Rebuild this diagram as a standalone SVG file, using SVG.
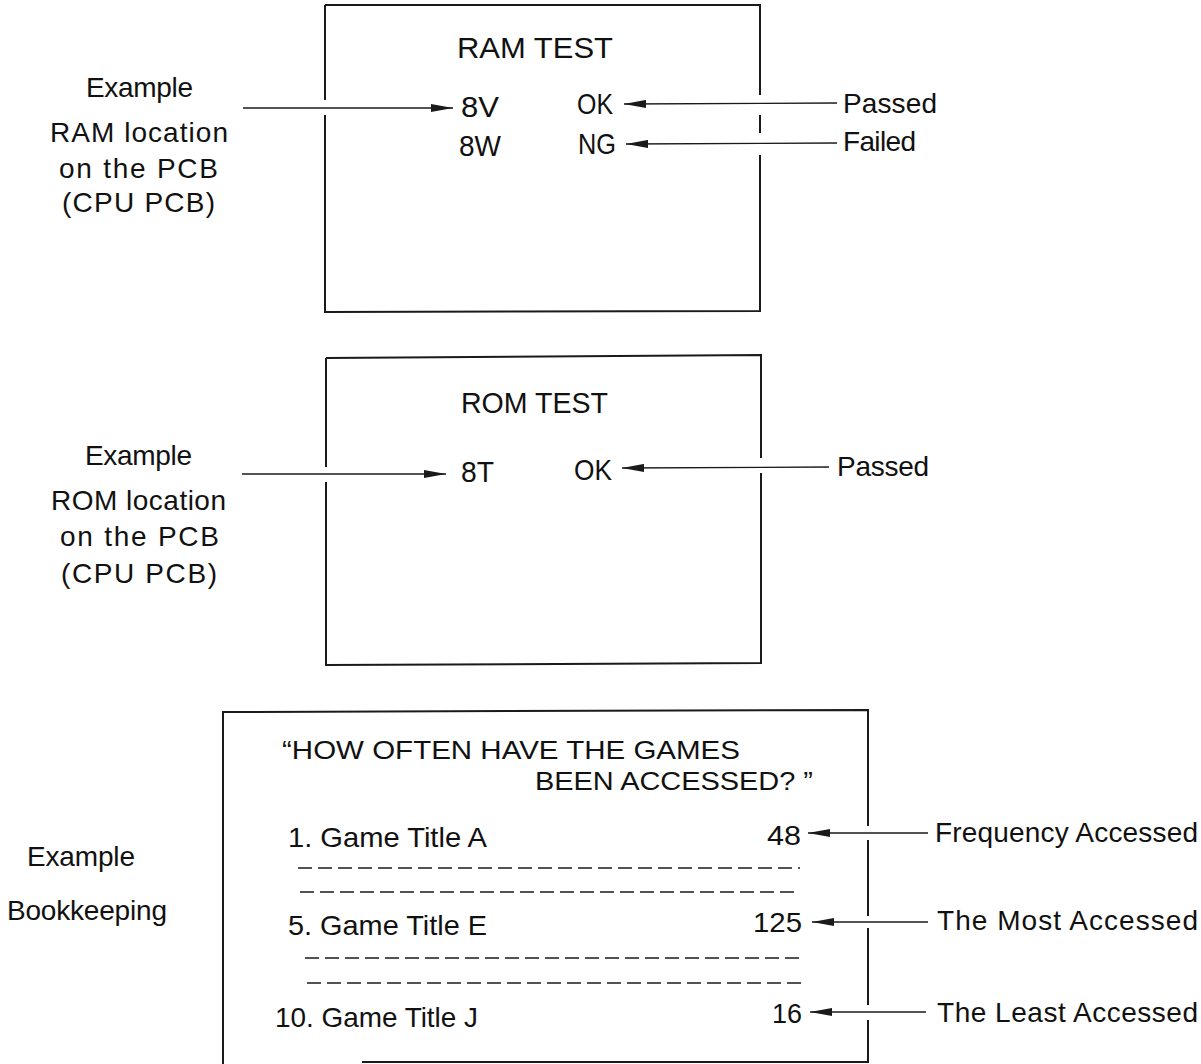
<svg xmlns="http://www.w3.org/2000/svg" width="1201" height="1064" viewBox="0 0 1201 1064">
<style>
text{font-family:"Liberation Sans","Arial",sans-serif;fill:#111;}
.lbl{font-size:28px;}
.in{font-size:29px;}
.ttl{font-size:26px;}
.row{font-size:28px;}
.frame{fill:none;stroke:#1a1a1a;stroke-width:2;}
.arr{fill:none;stroke:#1a1a1a;stroke-width:1.3;marker-end:url(#ah);}
.dash{fill:none;stroke:#1a1a1a;stroke-width:1.3;stroke-dasharray:14 6;}
</style>
<defs>
<marker id="ah" viewBox="0 0 22 8" refX="22" refY="4" markerWidth="22" markerHeight="8" markerUnits="userSpaceOnUse" orient="auto">
<path d="M0,0 L22,4 L0,8 Z" fill="#1a1a1a"/>
</marker>
</defs>
<rect width="1201" height="1064" fill="#fff"/>

<g id="ram-test">
<path class="frame" d="M325,5 H760 V95 M760,115 V133 M760,155 V311 L325,312 V115 M325,100 V5"/>
<text class="in" x="457" y="58" textLength="156" lengthAdjust="spacingAndGlyphs">RAM TEST</text>
<text class="in" x="461" y="117" textLength="38" lengthAdjust="spacingAndGlyphs">8V</text>
<text class="in" x="577" y="114" textLength="36" lengthAdjust="spacingAndGlyphs">OK</text>
<text class="in" x="459" y="156" textLength="42" lengthAdjust="spacingAndGlyphs">8W</text>
<text class="in" x="578" y="154" textLength="38" lengthAdjust="spacingAndGlyphs">NG</text>
</g>
<g id="ram-labels">
<text class="lbl" x="86" y="97" textLength="107">Example</text>
<text class="lbl" x="50" y="142" textLength="178">RAM location</text>
<text class="lbl" x="59" y="178" textLength="159">on the PCB</text>
<text class="lbl" x="62" y="212" textLength="153">(CPU PCB)</text>
<text class="lbl" x="843" y="113" textLength="94">Passed</text>
<text class="lbl" x="843" y="151" textLength="73">Failed</text>
</g>

<g id="rom-test">
<path class="frame" d="M326,358 L761,355 V458 M761,473 V663 L326,665 V482 M326,467 V358"/>
<text class="in" x="461" y="413" textLength="147" lengthAdjust="spacingAndGlyphs">ROM TEST</text>
<text class="in" x="461" y="482" textLength="33" lengthAdjust="spacingAndGlyphs">8T</text>
<text class="in" x="574" y="480" textLength="38" lengthAdjust="spacingAndGlyphs">OK</text>
</g>
<g id="rom-labels">
<text class="lbl" x="85" y="465" textLength="107">Example</text>
<text class="lbl" x="51" y="510" textLength="175">ROM location</text>
<text class="lbl" x="60" y="546" textLength="159">on the PCB</text>
<text class="lbl" x="61" y="583" textLength="156">(CPU PCB)</text>
<text class="lbl" x="837" y="476" textLength="92">Passed</text>
</g>

<g id="bookkeeping">
<path class="frame" d="M223,1064 V712 L868,710 V826 M868,840 V916 M868,928 V1005 M868,1020 V1062 H362"/>
<text class="ttl" x="282" y="759" textLength="458" lengthAdjust="spacingAndGlyphs">“HOW OFTEN HAVE THE GAMES</text>
<text class="ttl" x="535" y="790" textLength="278" lengthAdjust="spacingAndGlyphs">BEEN ACCESSED? ”</text>
<text class="row" x="288" y="847" textLength="199" lengthAdjust="spacingAndGlyphs">1. Game Title A</text>
<text class="row" x="767" y="845" textLength="34" lengthAdjust="spacingAndGlyphs">48</text>
<path class="dash" d="M298,868 H800 M300,892 H800"/>
<text class="row" x="288" y="935" textLength="199" lengthAdjust="spacingAndGlyphs">5. Game Title E</text>
<text class="row" x="753" y="932" textLength="49" lengthAdjust="spacingAndGlyphs">125</text>
<path class="dash" d="M305,958 H802 M307,983 H802"/>
<text class="row" x="275" y="1027" textLength="203" lengthAdjust="spacingAndGlyphs">10. Game Title J</text>
<text class="row" x="772" y="1023" textLength="30" lengthAdjust="spacingAndGlyphs">16</text>
</g>
<g id="bookkeeping-labels">
<text class="lbl" x="27" y="866" textLength="108">Example</text>
<text class="lbl" x="7" y="920" textLength="160">Bookkeeping</text>
<text class="lbl" x="935" y="842" textLength="263">Frequency Accessed</text>
<text class="lbl" x="937" y="930" textLength="261">The Most Accessed</text>
<text class="lbl" x="937" y="1022" textLength="261">The Least Accessed</text>
</g>

<g id="connectors">
<line class="arr" x1="243" y1="108" x2="453" y2="108"/>
<line class="arr" x1="837" y1="103" x2="624" y2="104"/>
<line class="arr" x1="837" y1="143" x2="626" y2="144"/>
<line class="arr" x1="242" y1="474" x2="446" y2="474"/>
<line class="arr" x1="829" y1="467" x2="622" y2="468"/>
<line class="arr" x1="928" y1="833" x2="808" y2="833"/>
<line class="arr" x1="928" y1="922" x2="812" y2="922"/>
<line class="arr" x1="926" y1="1012" x2="810" y2="1012"/>
</g>
</svg>
